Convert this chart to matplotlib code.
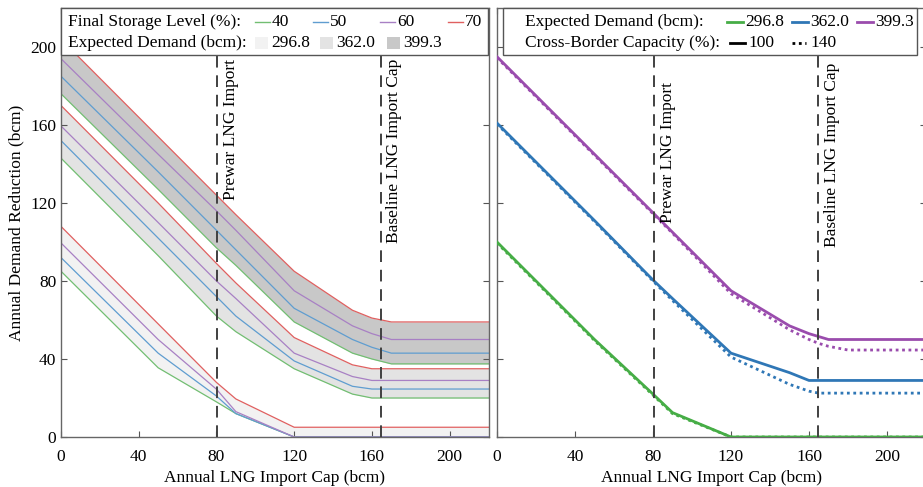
import matplotlib
matplotlib.use("Agg")
import matplotlib.pyplot as plt
from matplotlib.lines import Line2D
from matplotlib.patches import Rectangle

plt.rcParams['font.family'] = ['Liberation Serif', 'DejaVu Serif']

# ---------------- data ----------------
x_left = [0, 50, 80, 90, 120, 150, 160, 170, 220]
storage_levels = ["40", "50", "60", "70"]
demand_labels = ["296.8", "362.0", "399.3"]

# left panel: demand band -> storage level lines
left_296 = {
    "40": [85, 35.5, 18, 12, 0, 0, 0, 0, 0],
    "50": [92, 43, 21, 12, 0, 0, 0, 0, 0],
    "60": [99.5, 50, 24.5, 13, 0, 0, 0, 0, 0],
    "70": [108, 58, 28, 19.5, 5, 5, 5, 5, 5],
}
left_362 = {
    "40": [143, 93, 62, 54, 35, 22, 20, 20, 20],
    "50": [152, 102, 72, 62, 39, 26, 24.6, 24.6, 24.6],
    "60": [159.5, 110, 80, 71, 43, 31, 29, 29, 29],
    "70": [170, 120, 89, 79, 51, 37, 35, 35, 35],
}
left_399 = {
    "40": [176, 127, 97, 88, 59, 43, 40, 37.5, 37.5],
    "50": [185, 136, 106, 96, 66, 50, 46, 43, 43],
    "60": [194, 145, 116, 106, 75, 57, 53, 50, 50],
    "70": [204, 154, 124, 114, 85, 65, 61, 59, 59],
}

x_right = [0, 50, 80, 90, 120, 150, 160, 165, 170, 180, 220]
right_solid = {  # cross-border capacity 100 %
    "296.8": [100, 50, 22, 12.5, 0, 0, 0, 0, 0, 0, 0],
    "362.0": [161, 111, 80.5, 71, 43, 33, 29, 29, 29, 29, 29],
    "399.3": [195, 145, 115, 105, 75, 57, 53, 51.5, 50, 50, 50],
}
right_dotted = {  # cross-border capacity 140 %
    "296.8": [99.5, 49.5, 21.5, 12, 0, 0, 0, 0, 0, 0, 0],
    "362.0": [160.5, 110.5, 80, 70, 41, 27, 23.5, 22.5, 22.5, 22.5, 22.5],
    "399.3": [194.5, 144.5, 114.5, 104.5, 73.5, 55, 50, 48, 46.5, 44.6, 44.6],
}

prewar_import = 80.5
baseline_cap = 164.5
xticks = [0, 40, 80, 120, 160, 200]
yticks = [0, 40, 80, 120, 160, 200]

# ---------------- style ----------------
W, H = 923, 487
left_line_colors = {"40": "#72be72", "50": "#5f9dd0", "60": "#a880c4", "70": "#e06060"}
band_fill = {"296.8": "#f2f2f2", "362.0": "#e3e3e3", "399.3": "#c8c8c8"}
right_colors = {"296.8": "#46ad46", "362.0": "#2f77b6", "399.3": "#9a4cad"}
FS = 12.5

fig = plt.figure(figsize=(W / 100, H / 100), dpi=100)


def ax_rect(x0, y0, x1, y1):
    return [x0 / W, 1 - y1 / H, (x1 - x0) / W, (y1 - y0) / H]


ax1 = fig.add_axes(ax_rect(61, 8, 488.5, 437))
ax2 = fig.add_axes(ax_rect(497, 8, 926, 437))

# left panel
for lab, band in zip(demand_labels, [left_296, left_362, left_399]):
    ax1.fill_between(x_left, band["40"], band["70"], color=band_fill[lab], lw=0, zorder=1)
    for s in storage_levels:
        ax1.plot(x_left, band[s], color=left_line_colors[s], lw=0.9, zorder=2)

# right panel
for lab in demand_labels:
    ax2.plot(x_right, right_solid[lab], color=right_colors[lab], lw=2.0, zorder=3,
             solid_joinstyle='round')
    ax2.plot(x_right, right_dotted[lab], color=right_colors[lab], lw=2.0, ls=(0, (1, 1.3)),
             zorder=3)

for ax, (ty_prewar, ty_base) in zip([ax1, ax2], [(194, 194), (182, 192)]):
    ax.set_xlim(0, 220)
    ax.set_ylim(0, 220)
    for xv in (prewar_import, baseline_cap):
        ax.axvline(xv, color="#404040", lw=1.4, ls=(0, (6, 4)), zorder=4)
    ax.text(prewar_import + 3, ty_prewar, "Prewar LNG Import", rotation=90,
            ha="left", va="top", fontsize=FS, zorder=5)
    ax.text(baseline_cap + 3, ty_base, "Baseline LNG Import Cap", rotation=90,
            ha="left", va="top", fontsize=FS, zorder=5)
    ax.set_xticks(xticks)
    ax.set_yticks(yticks)
    ax.tick_params(direction="in", length=4, width=0.8, colors="#555555",
                   labelcolor="black", labelsize=FS, top=True, right=True)
    ax.tick_params(axis="x", pad=8.5)
    for sp in ax.spines.values():
        sp.set_color("#666666")
        sp.set_linewidth(1.0)
    ax.set_xlabel("Annual LNG Import Cap (bcm)", fontsize=FS, labelpad=4)

ax1.set_ylabel("Annual Demand Reduction (bcm)", fontsize=FS, labelpad=4)
ax2.tick_params(labelleft=False)

# ---------------- legends (drawn on figure, above axes) ----------------
def fx(px):
    return px / W


def fy(py):
    return 1 - py / H


def box(x0, y0, x1, y1):
    fig.patches.append(Rectangle((fx(x0), fy(y1)), fx(x1) - fx(x0), fy(y0) - fy(y1),
                                 transform=fig.transFigure, facecolor="white",
                                 edgecolor="#555555", lw=1.0, zorder=10))


def ftext(px, py, s):
    fig.text(fx(px), fy(py), s, fontsize=FS, ha="left", va="center", zorder=12)


def fline(x0, x1, py, color, lw, ls="-"):
    fig.lines.append(Line2D([fx(x0), fx(x1)], [fy(py), fy(py)], transform=fig.transFigure,
                            color=color, lw=lw, ls=ls, zorder=12))


def fpatch(x0, x1, py, color):
    h = 12
    fig.patches.append(Rectangle((fx(x0), fy(py + h / 2)), fx(x1) - fx(x0), h / H,
                                 transform=fig.transFigure, facecolor=color,
                                 edgecolor="none", zorder=12))


# left legend
box(61, 8, 488, 55)
r1, r2 = 22, 43
ftext(68, r1, "Final Storage Level (%):")
for s, x0 in zip(storage_levels, [255, 313, 380, 448]):
    fline(x0, x0 + 15, r1, left_line_colors[s], 1.0)
    ftext(x0 + 17, r1, s)
ftext(68, r2, "Expected Demand (bcm):")
for lab, x0 in zip(demand_labels, [255, 320, 387]):
    fpatch(x0, x0 + 13, r2, band_fill[lab])
    ftext(x0 + 16, r2, lab)

# right legend
box(503, 8, 917, 55)
ftext(525, r1, "Expected Demand (bcm):")
for lab, x0 in zip(demand_labels, [727, 792, 857]):
    fline(x0, x0 + 16, r1, right_colors[lab], 2.0)
    ftext(x0 + 18, r1, lab)
ftext(525, r2, "Cross-Border Capacity (%):")
fline(730, 745, r2, "black", 2.0)
ftext(748, r2, "100")
fline(792, 806, r2, "black", 2.0, ls=(0, (1, 1.3)))
ftext(810, r2, "140")

fig.savefig("out.png", dpi=100)
